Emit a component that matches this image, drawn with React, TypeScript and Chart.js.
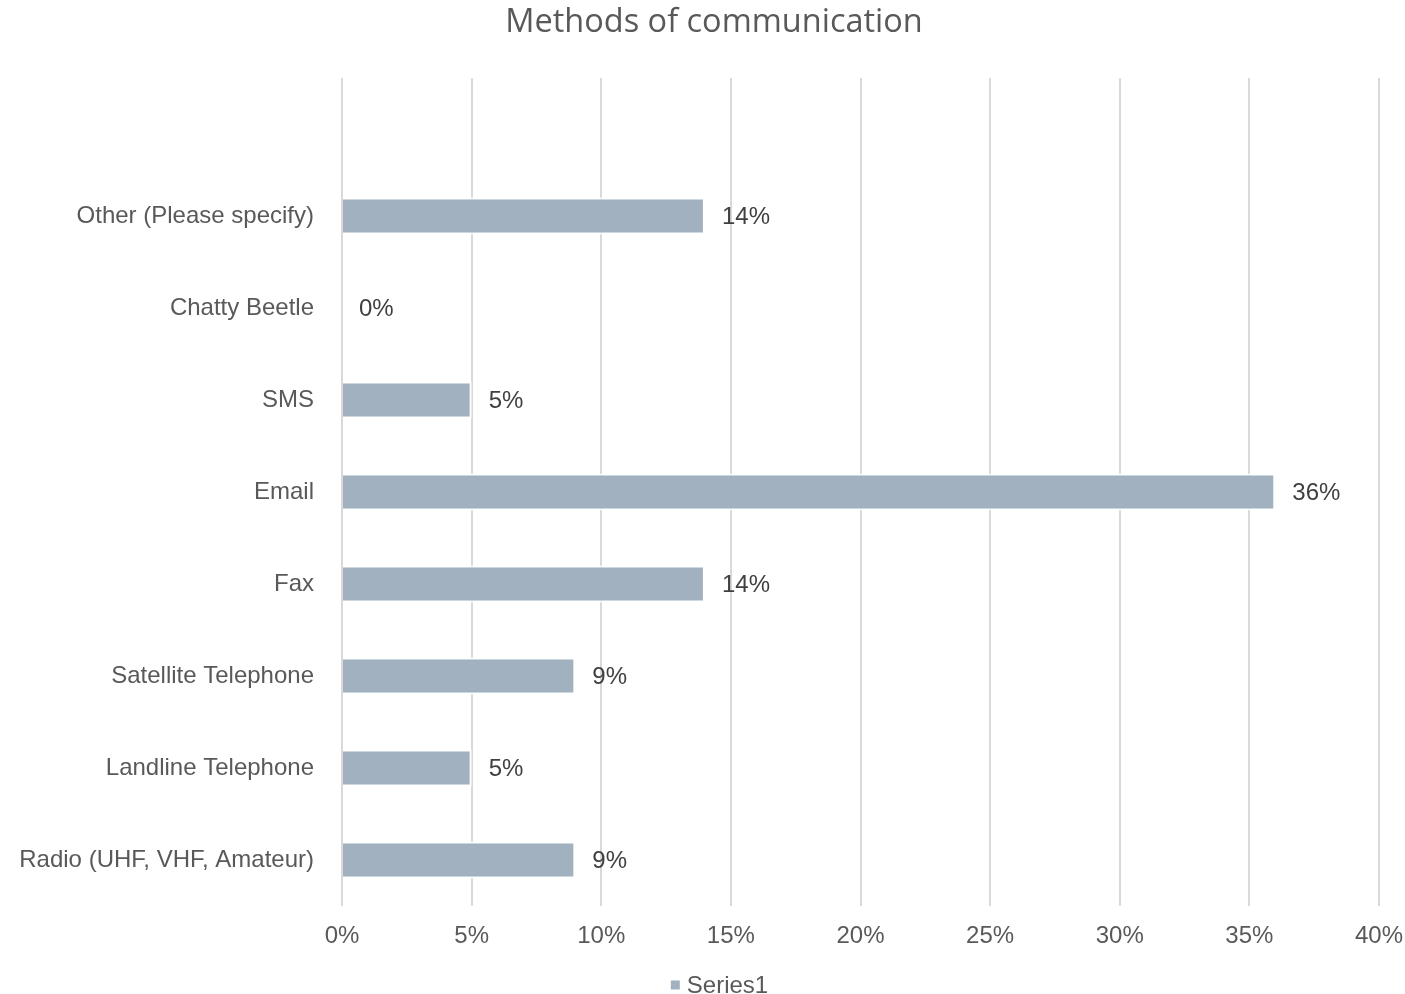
import React, { useEffect, useRef } from "react";
import { Chart, registerables } from "chart.js";

Chart.register(...registerables);

const TITLE = "Methods of communication";
const SERIES_NAME = "Series1";
const categories = [
  "",
  "Other (Please specify)",
  "Chatty Beetle",
  "SMS",
  "Email",
  "Fax",
  "Satellite Telephone",
  "Landline Telephone",
  "Radio (UHF, VHF, Amateur)",
];
const values: (number | null)[] = [null, 14, 0, 5, 36, 14, 9, 5, 9];
const xTicks = [0, 5, 10, 15, 20, 25, 30, 35, 40];

const BAR_COLOR = "#A2B1C0";
const GRID_COLOR = "#D9D9D9";
const AXIS_TEXT = "#595959";
const LABEL_TEXT = "#404040";
const FONT = "'Liberation Sans', Arial, sans-serif";

const dataLabels = {
  id: "dataLabels",
  afterDatasetsDraw(chart: any) {
    const ctx = chart.ctx;
    const meta = chart.getDatasetMeta(0);
    const xScale = chart.scales.x;
    ctx.save();
    ctx.font = `24px ${FONT}`;
    ctx.fillStyle = LABEL_TEXT;
    ctx.textAlign = "left";
    ctx.textBaseline = "middle";
    meta.data.forEach((bar: any, i: number) => {
      const v = values[i];
      if (v === null || v === undefined) return;
      const x = xScale.getPixelForValue(v) + 17;
      ctx.fillText(`${v}%`, x, bar.y + 1);
    });
    ctx.restore();
  },
};

const titleAndLegend = {
  id: "titleAndLegend",
  afterDraw(chart: any) {
    const ctx = chart.ctx;
    ctx.save();
    // title
    ctx.font = `32.5px 'Open Sans', sans-serif`;
    ctx.fillStyle = AXIS_TEXT;
    ctx.textAlign = "center";
    ctx.textBaseline = "middle";
    ctx.fillText(TITLE, chart.width / 2 + 11.5, 22.5);
    // legend
    ctx.font = `24px ${FONT}`;
    const tw = ctx.measureText(SERIES_NAME).width;
    const box = 9;
    const gap = 7;
    const total = box + gap + tw;
    const cx = chart.width / 2 + 17;
    const cy = 985;
    const x0 = cx - total / 2;
    ctx.fillStyle = BAR_COLOR;
    ctx.fillRect(x0, cy - box / 2, box, box);
    ctx.fillStyle = AXIS_TEXT;
    ctx.textAlign = "left";
    ctx.fillText(SERIES_NAME, x0 + box + gap, cy + 1);
    ctx.restore();
  },
};

export default function App() {
  const ref = useRef<HTMLCanvasElement>(null);
  useEffect(() => {
    document.body.style.margin = "0";
    const chart = new Chart(ref.current!, {
      type: "bar",
      data: {
        labels: categories,
        datasets: [
          {
            label: SERIES_NAME,
            data: values,
            backgroundColor: BAR_COLOR,
            borderColor: "#FFFFFF",
            borderWidth: 2,
            categoryPercentage: 1,
            barPercentage: 0.4,
          },
        ],
      },
      options: {
        indexAxis: "y",
        animation: false,
        responsive: false,
        devicePixelRatio: 1,
        layout: { padding: { left: 0, right: 26, top: 78, bottom: 38 } },
        scales: {
          x: {
            min: 0,
            max: 40,
            afterBuildTicks(scale: any) {
              scale.ticks = xTicks.map((v) => ({ value: v }));
            },
            afterFit(scale: any) {
              scale.height = 50;
              scale.paddingLeft = 0;
              scale.paddingRight = 0;
            },
            ticks: {
              callback: (v: any) => `${v}%`,
              color: AXIS_TEXT,
              font: { family: FONT, size: 24 },
              padding: 16,
            },
            grid: {
              color: GRID_COLOR,
              lineWidth: 2,
              drawTicks: false,
            },
            border: { display: false },
          },
          y: {
            afterFit(scale: any) {
              scale.width = 342;
            },
            ticks: {
              color: AXIS_TEXT,
              font: { family: FONT, size: 24 },
              padding: 20,
            },
            grid: { display: false },
            border: { display: false },
          },
        },
        plugins: {
          title: { display: false },
          legend: { display: false },
          tooltip: { enabled: false },
        },
      },
      plugins: [dataLabels, titleAndLegend],
    });
    return () => chart.destroy();
  }, []);
  return (
    <div style={{ width: 1405, height: 994 }}>
      <canvas ref={ref} width={1405} height={994} style={{ width: 1405, height: 994 }} />
    </div>
  );
}
